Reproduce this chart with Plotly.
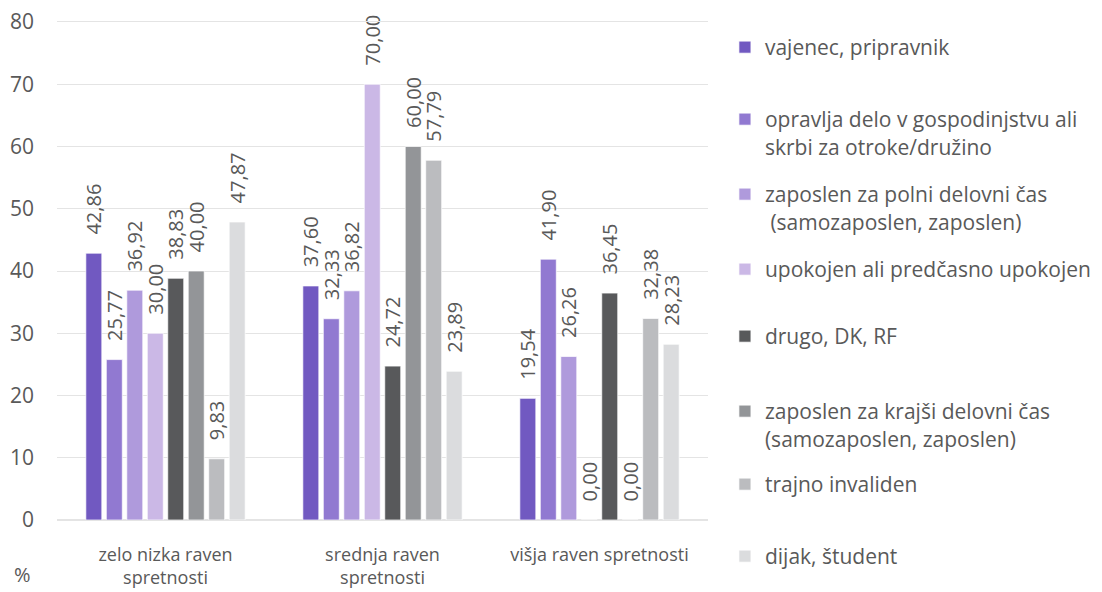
import plotly.graph_objects as go

# categories on the x axis
categories = ["zelo nizka raven<br>spretnosti", "srednja raven<br>spretnosti", "višja raven spretnosti"]

# one series per employment status
series_names = [
    "vajenec, pripravnik",
    "opravlja delo v gospodinjstvu ali<br>skrbi za otroke/družino",
    "zaposlen za polni delovni čas<br> (samozaposlen, zaposlen)",
    "upokojen ali predčasno upokojen",
    "drugo, DK, RF",
    "zaposlen za krajši delovni čas<br>(samozaposlen, zaposlen)",
    "trajno invaliden",
    "dijak, študent",
]
vajenec = [42.86, 37.60, 19.54]
gospodinjstvo = [25.77, 32.33, 41.90]
polni_cas = [36.92, 36.82, 26.26]
upokojen = [30.00, 70.00, 0.00]
drugo = [38.83, 24.72, 36.45]
krajsi_cas = [40.00, 60.00, 0.00]
invaliden = [9.83, 57.79, 32.38]
dijak = [47.87, 23.89, 28.23]

series_values = [vajenec, gospodinjstvo, polni_cas, upokojen, drugo, krajsi_cas, invaliden, dijak]
colors = ["#7159C1", "#9179D1", "#AF9ADC", "#CBB8E6", "#58595B", "#939598", "#BBBCBF", "#DBDCDE"]

# first-line centre of each legend entry, in pixels from top
legend_px = [48, 120, 195, 270, 337, 412, 485, 557]

TXT = "#595959"
GRID = "#E4E4E4"
FONT = "Open Sans"
PAGE_PAD = 8  # default body margin of the html page

fig = go.Figure()
for i, (name, vals, col) in enumerate(zip(series_names, series_values, colors)):
    fig.add_trace(go.Bar(
        x=categories, y=vals, name=name,
        marker=dict(color=col, line=dict(color="rgba(255,255,255,0.7)", width=1)),
        texttemplate="\u00a0\u00a0\u00a0%{y:.2f}",
        textposition="outside", textangle=-90,
        textfont=dict(family=FONT, size=20, color=TXT),
        constraintext="none", cliponaxis=False,
        legend="legend" if i == 0 else f"legend{i+1}",
    ))

# plot area is 57..708 px wide, 22..520 px tall (page pixels)
top, bottom = 22, 520
legends = {}
for i, px in enumerate(legend_px):
    key = "legend" if i == 0 else f"legend{i+1}"
    legends[key] = dict(
        x=1.026, xanchor="left",
        y=(bottom - (px - 21)) / (bottom - top), yanchor="top",
        valign="top", bgcolor="rgba(0,0,0,0)",
        font=dict(family=FONT, size=21, color=TXT),
    )

fig.update_layout(
    width=1102 - PAGE_PAD, height=592 - PAGE_PAD,
    margin=dict(l=57 - PAGE_PAD, r=394, t=top - PAGE_PAD, b=72, autoexpand=False),
    plot_bgcolor="white", paper_bgcolor="white",
    barmode="group", bargap=0.245, bargroupgap=0.22,
    separators=",.",
    showlegend=True,
    yaxis=dict(range=[0, 80], dtick=10, showgrid=True, gridcolor=GRID, gridwidth=1,
               zeroline=True, zerolinecolor=GRID, showline=False,
               ticklabeloverflow="allow",
               tickfont=dict(family=FONT, size=21, color=TXT), ticklabelstandoff=22),
    # mirrored x axis line stands in for the top (80) gridline
    xaxis=dict(showline=True, mirror=True, linecolor=GRID, linewidth=1,
               ticks="", ticklabelstandoff=18,
               tickfont=dict(family=FONT, size=18, color=TXT)),
    annotations=[dict(text="%", x=(22 - 57) / 651, y=(520 - 574) / (bottom - top), xref="paper", yref="paper",
                      xanchor="center", yanchor="middle", showarrow=False,
                      font=dict(family=FONT, size=20, color=TXT))],
    **legends,
)

fig.write_html("out.html")
